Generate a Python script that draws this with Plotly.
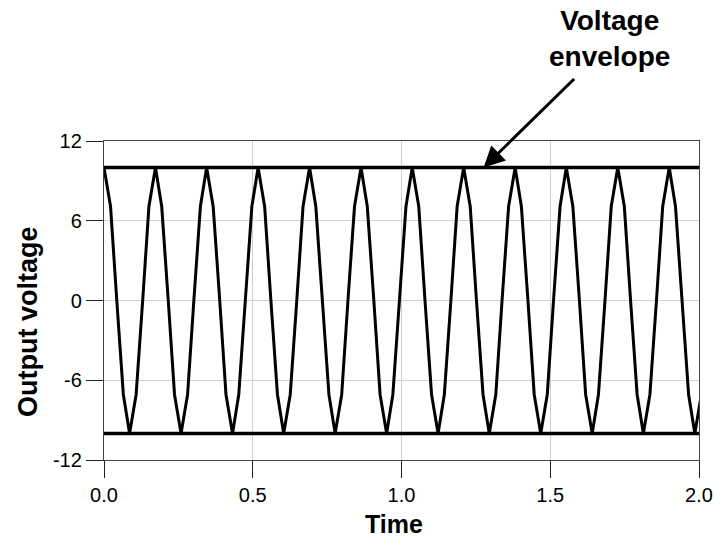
import plotly.graph_objects as go

time = [0.000, 0.022, 0.043, 0.065, 0.086, 0.108, 0.130, 0.151, 0.173, 0.194,
        0.216, 0.237, 0.259, 0.281, 0.302, 0.324, 0.345, 0.367, 0.389, 0.410,
        0.432, 0.453, 0.475, 0.497, 0.518, 0.540, 0.561, 0.583, 0.604, 0.626,
        0.648, 0.669, 0.691, 0.712, 0.734, 0.756, 0.777, 0.799, 0.820, 0.842,
        0.864, 0.885, 0.907, 0.928, 0.950, 0.971, 0.993, 1.015, 1.036, 1.058,
        1.079, 1.101, 1.123, 1.144, 1.166, 1.187, 1.209, 1.231, 1.252, 1.274,
        1.295, 1.317, 1.338, 1.360, 1.382, 1.403, 1.425, 1.446, 1.468, 1.490,
        1.511, 1.533, 1.554, 1.576, 1.598, 1.619, 1.641, 1.662, 1.684, 1.705,
        1.727, 1.749, 1.770, 1.792, 1.813, 1.835, 1.857, 1.878, 1.900, 1.921,
        1.943, 1.965, 1.986, 2.008]
voltage = [10, 7.07, 0, -7.07, -10, -7.07, 0, 7.07,
           10, 7.07, 0, -7.07, -10, -7.07, 0, 7.07,
           10, 7.07, 0, -7.07, -10, -7.07, 0, 7.07,
           10, 7.07, 0, -7.07, -10, -7.07, 0, 7.07,
           10, 7.07, 0, -7.07, -10, -7.07, 0, 7.07,
           10, 7.07, 0, -7.07, -10, -7.07, 0, 7.07,
           10, 7.07, 0, -7.07, -10, -7.07, 0, 7.07,
           10, 7.07, 0, -7.07, -10, -7.07, 0, 7.07,
           10, 7.07, 0, -7.07, -10, -7.07, 0, 7.07,
           10, 7.07, 0, -7.07, -10, -7.07, 0, 7.07,
           10, 7.07, 0, -7.07, -10, -7.07, 0, 7.07,
           10, 7.07, 0, -7.07, -10, -7.07]

envelope_x = [-0.012, 2.01]
envelope_upper = [10, 10]
envelope_lower = [-10, -10]

x_ticks = [0.0, 0.5, 1.0, 1.5, 2.0]
x_ticklabels = ["0.0", "0.5", "1.0", "1.5", "2.0"]
y_ticks = [-12, -6, 0, 6, 12]
y_ticklabels = ["-12", "-6", "0", "6", "12"]

FONT = "Liberation Sans, Arial, sans-serif"

fig = go.Figure()
fig.add_trace(go.Scatter(x=time, y=voltage, mode="lines",
                         line=dict(color="#000000", width=3), showlegend=False))
fig.add_trace(go.Scatter(x=envelope_x, y=envelope_upper, mode="lines",
                         line=dict(color="#000000", width=3.5), showlegend=False))
fig.add_trace(go.Scatter(x=envelope_x, y=envelope_lower, mode="lines",
                         line=dict(color="#000000", width=3.5), showlegend=False))

fig.update_layout(
    width=714, height=540,
    margin=dict(l=104, r=15, t=141, b=80, autoexpand=False),
    paper_bgcolor="white", plot_bgcolor="white",
    font=dict(family=FONT, color="#000000"),
    xaxis=dict(range=[0, 2], tickvals=x_ticks, ticktext=x_ticklabels,
               ticks="outside", ticklen=17, tickwidth=1, tickcolor="#222222",
               showline=True, linecolor="#444444", linewidth=1.3, mirror=True,
               showgrid=True, gridcolor="#cfcfcf", gridwidth=1, zeroline=False,
               automargin=False,
               tickfont=dict(size=20, family=FONT)),
    yaxis=dict(range=[-12, 12], tickvals=y_ticks, ticktext=y_ticklabels,
               ticks="outside", ticklen=17, tickwidth=1, tickcolor="#222222",
               showline=True, linecolor="#444444", linewidth=1.3, mirror=True,
               showgrid=True, gridcolor="#cfcfcf", gridwidth=1, zeroline=False,
               automargin=False,
               tickfont=dict(size=20, family=FONT)),
    annotations=[
        dict(x=1.276, y=10, xref="x", yref="y", text="", showarrow=True,
             ax=92, ay=-90, axref="pixel", ayref="pixel",
             arrowhead=2, arrowsize=1.4, arrowwidth=3, arrowcolor="#000000"),
        dict(x=0.85, y=1.32, xref="paper", yref="paper",
             text="<b>Voltage<br>envelope</b>", showarrow=False,
             font=dict(size=28, family=FONT, color="#000000"),
             xanchor="center", yanchor="middle", align="center"),
        dict(x=0.487, y=-0.202, xref="paper", yref="paper",
             text="<b>Time</b>", showarrow=False,
             font=dict(size=25, family=FONT, color="#000000"),
             xanchor="center", yanchor="middle"),
        dict(x=-0.128, y=0.435, xref="paper", yref="paper",
             text="<b>Output voltage</b>", showarrow=False, textangle=-90,
             font=dict(size=27, family=FONT, color="#000000"),
             xanchor="center", yanchor="middle"),
    ],
)

fig.write_html("out.html")
